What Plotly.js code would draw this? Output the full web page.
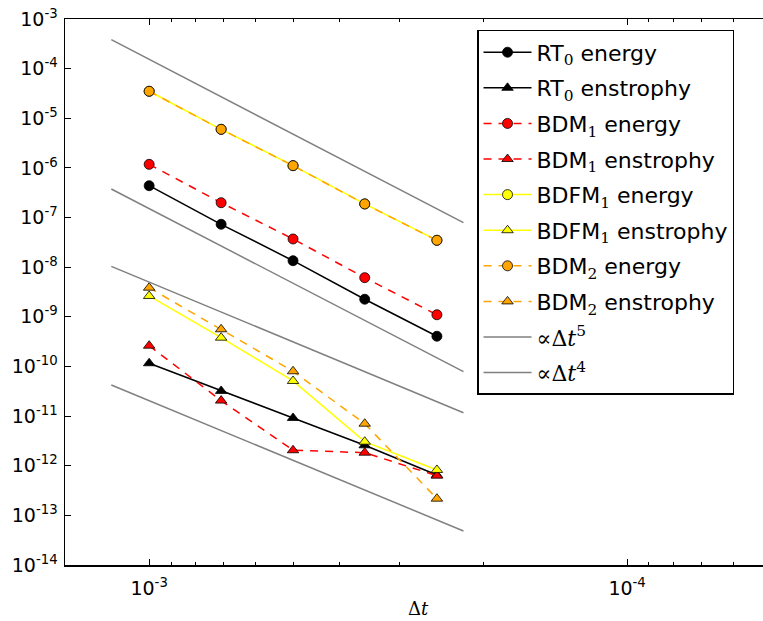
<!DOCTYPE html>
<html>
<head>
<meta charset="utf-8">
<script src="https://cdn.plot.ly/plotly-3.0.1.min.js"></script>
<style>
html, body { margin:0; padding:0; overflow:hidden; background:#fff; }
#chart { width:781px; height:621px; }
</style>
</head>
<body>
<div id="chart"></div>
<script>
// time steps
const dt = [1.0e-3, 7.07e-4, 5.0e-4, 3.54e-4, 2.5e-4];

// errors
const rt0Energy      = [4.38e-7, 7.31e-8, 1.35e-8, 2.26e-9, 4.06e-10];
const rt0Enstrophy   = [1.16e-10, 3.21e-11, 9.16e-12, 2.58e-12, 6.5e-13];
const bdm1Energy     = [1.18e-6, 1.99e-7, 3.70e-8, 6.15e-9, 1.10e-9];
const bdm1Enstrophy  = [2.62e-10, 2.05e-11, 2.05e-12, 1.83e-12, 6.3e-13];
const bdfm1Energy    = [3.50e-5, 5.99e-6, 1.11e-6, 1.88e-7, 3.48e-8];
const bdfm1Enstrophy = [2.63e-9, 3.80e-10, 5.10e-11, 3.05e-12, 8.22e-13];
const bdm2Energy     = [3.50e-5, 5.99e-6, 1.11e-6, 1.88e-7, 3.48e-8];
const bdm2Enstrophy  = [3.86e-9, 5.61e-10, 8.0e-11, 7.03e-12, 2.17e-13];

// reference slope lines (two segments each), endpoints
const refX  = [1.2e-3, 2.2e-4];
const ref5a = [3.83e-4, 7.88e-8];
const ref5b = [3.76e-7, 7.85e-11];
const ref4a = [1.04e-8, 1.17e-11];
const ref4b = [4.24e-11, 4.85e-14];

// axis ticks
const yTickVals = [1e-3,1e-4,1e-5,1e-6,1e-7,1e-8,1e-9,1e-10,1e-11,1e-12,1e-13,1e-14];
const yTickText = ['-3','-4','-5','-6','-7','-8','-9','-10','-11','-12','-13','-14'].map(e => '10<sup>' + e + '</sup>');
const xTickVals = [1e-3, 1e-4];
const xTickText = ['10<sup>-3</sup>', '10<sup>-4</sup>'];
const xMinorVals = [9e-4,8e-4,7e-4,6e-4,5e-4,4e-4,3e-4,2e-4,9e-5,8e-5,7e-5,6e-5];

const sub = d => '<sub><span style="font-family:DejaVu Serif">' + d + '</span></sub>';

function series(name, y, color, symbol, dash, group) {
  return {
    x: dt, y: y, name: name, type: 'scatter', mode: 'lines+markers',
    legendgroup: group,
    line: {color: color, width: 1.5, dash: dash},
    marker: {color: color, symbol: symbol, size: 10,
             line: {color: '#000', width: 0.8}}
  };
}
function refLine(name, ya, yb, group) {
  return {
    x: refX.concat([null]).concat(refX),
    y: ya.concat([null]).concat(yb),
    name: name, type: 'scatter', mode: 'lines', legendgroup: group,
    connectgaps: false,
    line: {color: '#808080', width: 1.5}
  };
}

const dashed = '8px,7px';
const traces = [
  series('RT' + sub('0') + ' energy', rt0Energy, '#000000', 'circle', 'solid', 'g1'),
  series('RT' + sub('0') + ' enstrophy', rt0Enstrophy, '#000000', 'triangle-up', 'solid', 'g2'),
  series('BDM' + sub('1') + ' energy', bdm1Energy, '#ff0000', 'circle', dashed, 'g3'),
  series('BDM' + sub('1') + ' enstrophy', bdm1Enstrophy, '#ff0000', 'triangle-up', dashed, 'g4'),
  series('BDFM' + sub('1') + ' energy', bdfm1Energy, '#ffff00', 'circle', 'solid', 'g5'),
  series('BDFM' + sub('1') + ' enstrophy', bdfm1Enstrophy, '#ffff00', 'triangle-up', 'solid', 'g6'),
  series('BDM' + sub('2') + ' energy', bdm2Energy, '#ffa500', 'circle', dashed, 'g7'),
  series('BDM' + sub('2') + ' enstrophy', bdm2Enstrophy, '#ffa500', 'triangle-up', dashed, 'g8'),
  refLine('<span style="font-family:DejaVu Serif">∝Δ<i>t</i><sup>5</sup></span>', ref5a, ref5b, 'g9'),
  refLine('<span style="font-family:DejaVu Serif">∝Δ<i>t</i><sup>4</sup></span>', ref4a, ref4b, 'g10')
];

const layout = {
  width: 781, height: 621,
  margin: {l: 65, r: 10, t: 19, b: 56},
  paper_bgcolor: '#fff', plot_bgcolor: '#fff',
  font: {family: 'DejaVu Sans', color: '#000', size: 19},
  showlegend: true,
  legend: {
    x: 0.5836, y: 0.98, xanchor: 'left', yanchor: 'top',
    bordercolor: '#000', borderwidth: 1.5, bgcolor: '#fff',
    font: {family: 'DejaVu Sans', size: 22, color: '#000'},
    traceorder: 'grouped', tracegroupgap: 4, itemwidth: 48
  },
  xaxis: {
    type: 'log', range: [Math.log10(1.5e-3), Math.log10(5e-5)],
    showgrid: false, zeroline: false,
    showline: true, linecolor: '#000', linewidth: 1.5, mirror: 'ticks',
    ticks: 'inside', ticklen: 6, tickcolor: '#000', tickwidth: 1,
    tickmode: 'array', tickvals: xTickVals, ticktext: xTickText,
    tickfont: {size: 19}, ticklabelstandoff: 6,
    minor: {tickmode: 'array', tickvals: xMinorVals, ticks: 'inside', ticklen: 3, tickcolor: '#000', showgrid: false},
    title: {text: 'Δ<i>t</i>', font: {family: 'DejaVu Serif', size: 18}, standoff: 4}
  },
  yaxis: {
    type: 'log', range: [-14, -3],
    showgrid: false, zeroline: false,
    showline: true, linecolor: '#000', linewidth: 1.5, mirror: 'ticks',
    ticks: 'inside', ticklen: 6, tickcolor: '#000', tickwidth: 1,
    tickmode: 'array', tickvals: yTickVals, ticktext: yTickText,
    tickfont: {size: 19}, ticklabelstandoff: 2
  }
};

Plotly.newPlot('chart', traces, layout, {staticPlot: true, displayModeBar: false});
</script>
</body>
</html>
